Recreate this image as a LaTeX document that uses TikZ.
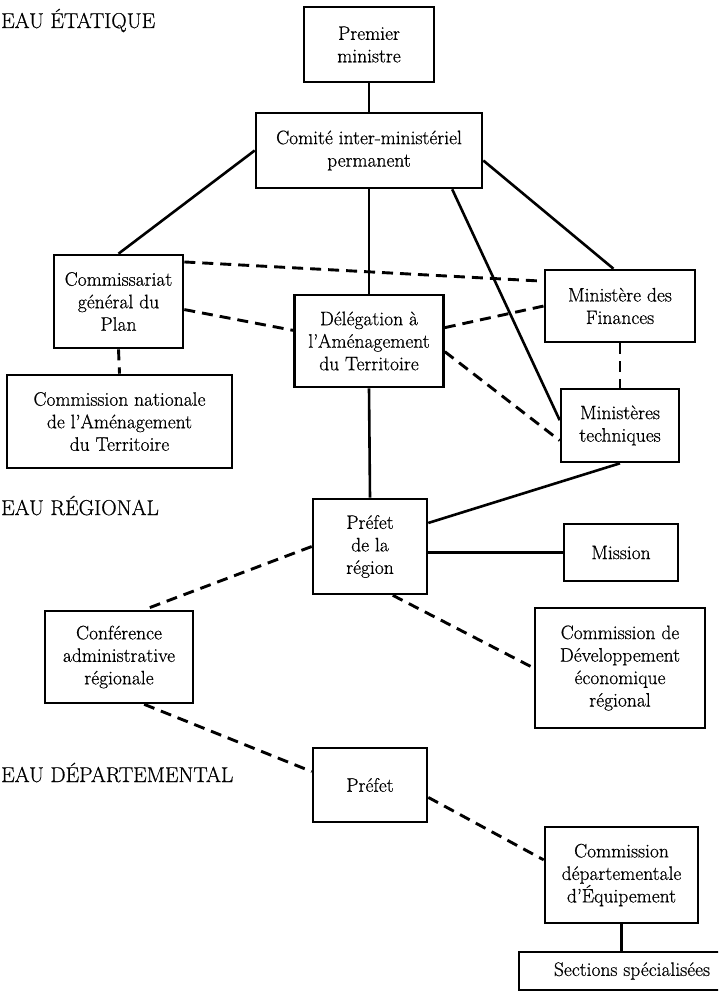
\documentclass[tikz,border=0pt]{standalone}
\usepackage{fontspec}
\usepackage{tikz}
\usetikzlibrary{positioning}
\newfontfamily\orgfamily{Latin Modern Roman}[Ligatures=TeX, FakeBold=0.6]
\newcommand\boxfont{\orgfamily\fontsize{19.5}{22.5}\selectfont}
\newcommand\levelfont{\orgfamily\fontsize{21.5}{24}\selectfont}
\tikzset{
heavy/.style={line width=2.6pt},
organ/.style 2 args={draw, heavy, align=center, inner sep=0pt, font=\boxfont,
	minimum width=#1, minimum height=#2},
dlink/.style={line width=2.9pt, dash pattern=on 11pt off 7pt},
level/.style={anchor=base west, inner sep=0pt, font=\levelfont},
}

\begin{document}
\begin{tikzpicture}[x=1pt, y=-1pt, node distance=106pt]
\useasboundingbox (0,0) rectangle (718,995);
\clip (0,0) rectangle (718,995);

%Level labels
\node[level] (etat) at (1,28) {EAU ÉTATIQUE};
\node[level] (reg) at (1,515) {EAU RÉGIONAL};
\node[level] (dep) at (1,782) {EAU DÉPARTEMENTAL};

%State level
\node[organ={130pt}{75pt}] (prem) at (369,44.5) {Premier\\ministre};
\node[organ={226pt}{75pt}, below of=prem] (cimp) {Comité inter-ministériel\\permanent};
\node[organ={129pt}{93pt}] (cgp) at (118.5,301.5) {Commissariat\\général du\\Plan};
\node[organ={225pt}{93pt}] (cnat) at (119.5,421.5) {Commission nationale\\de l'Aménagement\\du Territoire};
\node[organ={149pt}{92pt}] (datar) at (369,341) {Délégation à\\l'Aménagement\\du Territoire};
\node[organ={150pt}{72pt}] (fin) at (620,306) {Ministère des\\Finances};
\node[organ={118pt}{73pt}, below of=fin, node distance=119.5pt] (mtech) {Ministères\\techniques};

%Regional level
\node[organ={114pt}{95pt}] (pregion) at (370,546.5) {Préfet\\de la\\région};
\node[organ={114pt}{57pt}] (mission) at (621,552.5) {Mission};
\node[organ={148pt}{92pt}] (conf) at (119,657) {Conférence\\administrative\\régionale};
\node[organ={170pt}{120pt}] (cdev) at (620,668) {Commission de\\Développement\\économique\\régional};

%Departmental level
\node[organ={114pt}{74pt}] (pdep) at (370,785) {Préfet};
\node[organ={153pt}{96pt}] (cdeq) at (621.5,875) {Commission\\départementale\\d'Équipement};
\node[organ={226pt}{38pt}, below of=cdeq, node distance=96pt, xshift=10.5pt] (sect) {Sections spécialisées};

%
\draw[heavy] (prem.south) -- (cimp.north);
\draw[heavy] (cimp.west) -- (cgp.north);
\draw[heavy] (cimp.-5) -- (fin.100);
\draw[heavy] (cimp.south) -- (datar.north);
\draw[heavy] (cimp.-25.7) -- (mtech.175);
\draw[heavy] (datar.south) -- (pregion.north);
\draw[heavy] (mtech.south) -- (pregion.22);
\draw[heavy] (pregion.east |- mission.west) -- (mission.west);
\draw[heavy] (cdeq.south) -- (cdeq.south |- sect.north);

%
\draw[dlink] (cgp.south) -- (cnat.north);
\draw[dlink] (cgp.31) -- (fin.162);
\draw[dlink] (cgp.-7) -- (datar.172);
\draw[dlink] (datar.10) -- (fin.west);
\draw[dlink] (datar.-8) -- (mtech.194);
\draw[dlink] (fin.south) -- (mtech.north);

%
\draw[dlink] (pregion.west) -- (conf.62);
\draw[dlink] (conf.-62) -- (pdep.167);
\draw[dlink] (pregion.-65) -- (cdev.west);
\draw[dlink] (pdep.-12) -- (cdeq.169);

\end{tikzpicture}
\end{document}
